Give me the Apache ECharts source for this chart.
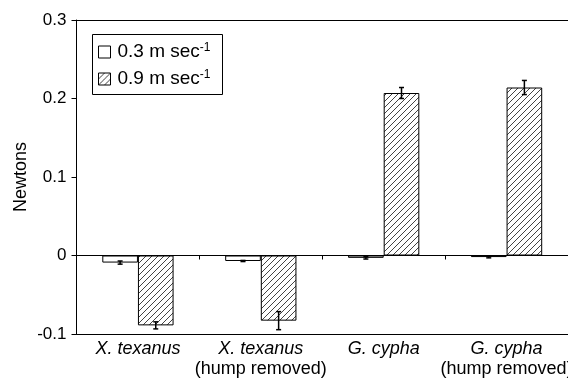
<!DOCTYPE html>
<html>
<head>
<meta charset="utf-8">
<script src="https://cdn.jsdelivr.net/npm/echarts@6/dist/echarts.min.js"></script>
<style>html,body{margin:0;padding:0;background:#fff;}#c{width:568px;height:380px;}</style>
</head>
<body>
<div id="c"></div>
<script>
// ---- data ----
var categories = ['X. texanus', 'X. texanus', 'G. cypha', 'G. cypha'];
var subLabels = ['', '(hump removed)', '', '(hump removed)'];
var legendLabels = ['0.3 m sec', '0.9 m sec'];
var slowValues = [-0.009, -0.007, -0.003, -0.002];
var slowErrors = [0.002, 0.0007, 0.0015, 0.001];
var fastValues = [-0.089, -0.083, 0.207, 0.214];
var fastErrors = [0.0045, 0.0115, 0.007, 0.009];
var yTicks = [-0.1, 0, 0.1, 0.2, 0.3];

var FONT = '"Liberation Sans", Arial, sans-serif';
var catKeys = categories.map(function (c, i) { return String(i); });

// hatch pattern
var pc = document.createElement('canvas');
pc.width = 6; pc.height = 6;
var g = pc.getContext('2d');
g.fillStyle = '#fff'; g.fillRect(0, 0, 6, 6);
g.strokeStyle = '#444'; g.lineWidth = 1;
g.beginPath();
g.moveTo(-1, 7); g.lineTo(7, -1);
g.moveTo(-1, 1); g.lineTo(1, -1);
g.moveTo(5, 7); g.lineTo(7, 5);
g.stroke();
var hatch = { image: pc, repeat: 'repeat' };

var BAR_FRAC = 0.29;

function errSeries(vals, errs, sign) {
  return {
    type: 'custom',
    name: 'err' + sign,
    xAxisIndex: 0,
    yAxisIndex: 0,
    z: 10,
    data: vals.map(function (v, i) { return [i, v, errs[i]]; }),
    encode: { x: 0, y: 1 },
    renderItem: function (params, api) {
      var i = api.value(0), v = api.value(1), e = api.value(2);
      var base = api.coord([i, v]);
      var bw = api.size([1, 0])[0];
      var cx = base[0] + sign * BAR_FRAC / 2 * bw;
      var yt = api.coord([i, v + e])[1];
      var yb = api.coord([i, v - e])[1];
      var st = { stroke: '#000', lineWidth: 1.5 };
      return {
        type: 'group',
        children: [
          { type: 'line', shape: { x1: cx, y1: yt, x2: cx, y2: yb }, style: st },
          { type: 'line', shape: { x1: cx - 2.5, y1: yt, x2: cx + 2.5, y2: yt }, style: st },
          { type: 'line', shape: { x1: cx - 2.5, y1: yb, x2: cx + 2.5, y2: yb }, style: st }
        ]
      };
    }
  };
}

var chart = echarts.init(document.getElementById('c'), null, { renderer: 'canvas' });
chart.setOption({
  animation: false,
  backgroundColor: '#fff',
  textStyle: { fontFamily: FONT, color: '#000' },
  grid: { left: 76.5, right: 0, top: 20, bottom: 46, containLabel: false, outerBoundsMode: 'none' },
  graphic: [{
    type: 'rect', left: 90, top: 32, z: 100,
    shape: { width: 130, height: 60 },
    style: { fill: null, stroke: '#000', lineWidth: 1 }
  }],
  legend: {
    orient: 'vertical',
    left: 90, top: 32,
    padding: [10, 8, 7, 8],
    itemGap: 7,
    itemWidth: 12, itemHeight: 12,
    icon: 'rect',
    data: [legendLabels[0], legendLabels[1]],
    formatter: function (n) { return n + '{sup|-1}'; },
    itemStyle: { borderWidth: 1, borderColor: '#000' },
    textStyle: {
      fontFamily: FONT, fontSize: 19, color: '#000', lineHeight: 20, padding: [0, 0, 0, 2],
      rich: { sup: { fontFamily: FONT, fontSize: 12, lineHeight: 12, verticalAlign: 'top', color: '#000' } }
    }
  },
  xAxis: [
    {
      type: 'category', data: catKeys, gridIndex: 0,
      axisLine: { onZero: true, lineStyle: { color: '#000', width: 1 } },
      axisTick: { show: true, length: 4, lineStyle: { color: '#000' } },
      axisLabel: { show: false },
      splitLine: { show: false }
    },
    {
      type: 'category', data: catKeys, gridIndex: 0, position: 'bottom',
      axisLine: { onZero: false, lineStyle: { color: '#000', width: 1 } },
      axisTick: { show: false },
      axisLabel: {
        interval: 0,
        margin: 5,
        hideOverlap: false,
        formatter: function (v) {
          var i = +v;
          var s = '{i|' + categories[i] + '}';
          if (subLabels[i]) s += '\n{n|' + subLabels[i] + '}';
          return s;
        },
        rich: {
          i: { fontFamily: FONT, fontSize: 18, fontStyle: 'italic', color: '#000', lineHeight: 20 },
          n: { fontFamily: FONT, fontSize: 18, color: '#000', lineHeight: 20 }
        }
      }
    },
    {
      type: 'category', data: catKeys, gridIndex: 0, position: 'top',
      axisLine: { onZero: false, lineStyle: { color: '#000', width: 1 } },
      axisTick: { show: false },
      axisLabel: { show: false }
    }
  ],
  yAxis: {
    type: 'value',
    min: yTicks[0], max: yTicks[yTicks.length - 1], interval: 0.1,
    name: 'Newtons',
    nameLocation: 'middle',
    nameGap: 46,
    nameMoveOverlap: false,
    nameTextStyle: { fontFamily: FONT, fontSize: 18, color: '#000' },
    axisLine: { show: true, lineStyle: { color: '#000', width: 1 } },
    axisTick: { show: true, length: 5, lineStyle: { color: '#000' } },
    axisLabel: {
      margin: 10, fontFamily: FONT, fontSize: 17, color: '#000',
      formatter: function (v) { return Math.abs(v) < 1e-9 ? '0' : v.toFixed(1); }
    },
    splitLine: { show: false }
  },
  series: [
    {
      type: 'bar', name: legendLabels[0], xAxisIndex: 0,
      data: slowValues,
      barWidth: (BAR_FRAC * 100) + '%', barGap: '0%',
      itemStyle: { color: '#fff', borderColor: '#000', borderWidth: 1 }
    },
    {
      type: 'bar', name: legendLabels[1], xAxisIndex: 0,
      data: fastValues,
      barWidth: (BAR_FRAC * 100) + '%', barGap: '0%',
      itemStyle: { color: hatch, borderColor: '#000', borderWidth: 1 }
    },
    errSeries(slowValues, slowErrors, -1),
    errSeries(fastValues, fastErrors, 1)
  ]
});
</script>
</body>
</html>
